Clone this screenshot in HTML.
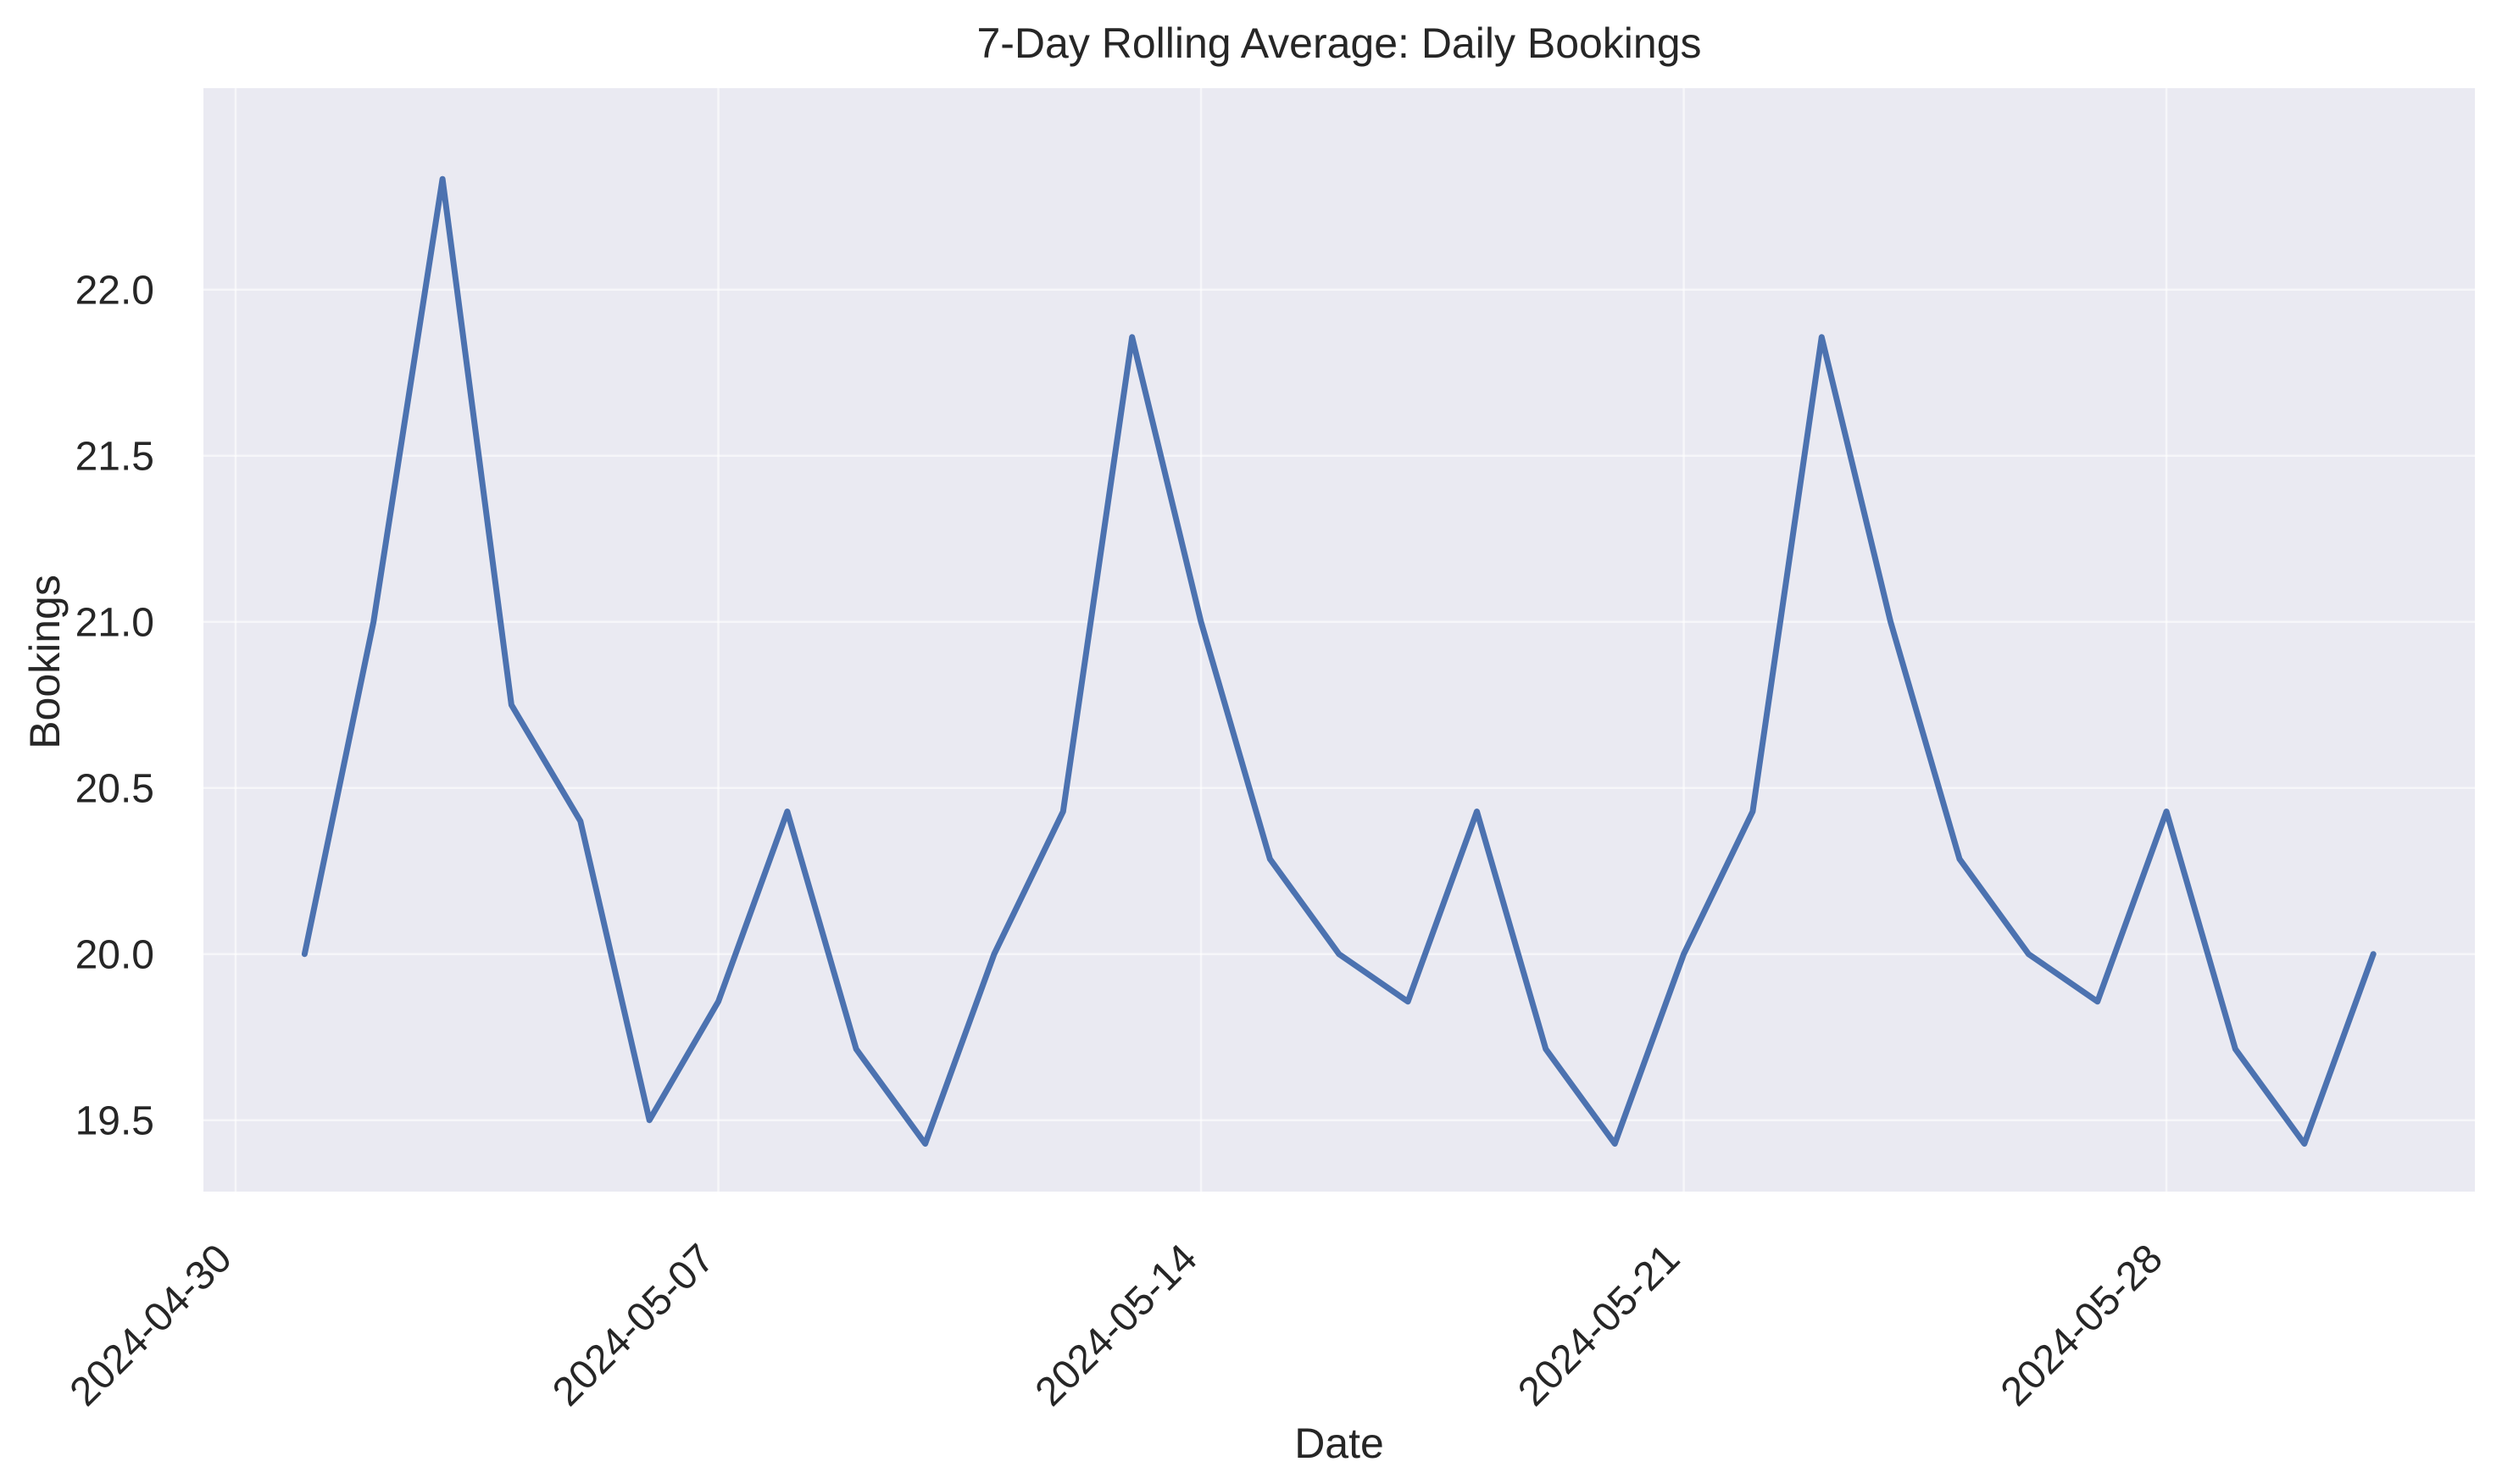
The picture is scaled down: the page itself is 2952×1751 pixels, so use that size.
<!DOCTYPE html>
<html><head><meta charset="utf-8"><style>
html,body{margin:0;padding:0;background:#fff;}
svg{display:block;font-family:"Liberation Sans",Arial,sans-serif;}
</style></head><body>
<svg id="chart" width="2952" height="1751" viewBox="0 0 2952 1751">
<rect x="0" y="0" width="2952" height="1751" fill="#ffffff"/>
<rect x="240" y="104" width="2680" height="1302" fill="#eaeaf2"/>
<g id="grid"></g>
<g id="series"></g>
<g id="xticks"></g>
<g id="yticks"></g>
<text x="1580" y="68" text-anchor="middle" font-size="50" fill="#262626">7-Day Rolling Average: Daily Bookings</text>
<text x="1580" y="1720" text-anchor="middle" font-size="50" fill="#262626">Date</text>
<text transform="translate(70,781) rotate(-90)" text-anchor="middle" font-size="50" fill="#262626">Bookings</text>
</svg>
<script>
const dayOffsets = [1,2,3,4,5,6,7,8,9,10,11,12,13,14,15,16,17,18,19,20,21,22,23,24,25,26,27,28,29,30,31];
const values = [20.0,21.0,22.333,20.75,20.4,19.5,19.857,20.429,19.714,19.429,20.0,20.429,21.857,21.0,20.286,20.0,19.857,20.429,19.714,19.429,20.0,20.429,21.857,21.0,20.286,20.0,19.857,20.429,19.714,19.429,20.0];
const xTickOffsets = [0,7,14,21,28];
const xTickLabels = ["2024-04-30","2024-05-07","2024-05-14","2024-05-21","2024-05-28"];
const yTicks = [19.5,20.0,20.5,21.0,21.5,22.0];
const yTickLabels = ["19.5","20.0","20.5","21.0","21.5","22.0"];

const NS = "http://www.w3.org/2000/svg";
const PL = 240, PR = 2920, PT = 104, PB = 1406;
function xScale(d){ return 278 + d * 81.36; }
function yScale(v){ return 1321.7 - (v - 19.5) * 392; }
function mk(tag, attrs, parent){
  const el = document.createElementNS(NS, tag);
  for (const k in attrs) el.setAttribute(k, attrs[k]);
  parent.appendChild(el);
  return el;
}
const grid = document.getElementById('grid');
const xt = document.getElementById('xticks');
const yt = document.getElementById('yticks');
const series = document.getElementById('series');

yTicks.forEach((v, i) => {
  const y = yScale(v);
  const l = mk('line', {x1: PL, x2: PR, y1: y, y2: y, stroke: '#ffffff', 'stroke-width': 2.5, opacity: 0.6}, grid);
  
  
  const t = mk('text', {x: 182, y: y + 17, 'text-anchor': 'end', 'font-size': 48, fill: '#262626'}, yt);
  t.textContent = yTickLabels[i];
  
  
});
xTickOffsets.forEach((d, i) => {
  const x = xScale(d);
  const l = mk('line', {x1: x, x2: x, y1: PT, y2: PB, stroke: '#ffffff', 'stroke-width': 2.5, opacity: 0.6}, grid);
  
  
  const t = mk('text', {transform: 'translate(' + (x - 2) + ',1488) rotate(-45)', 'text-anchor': 'end', 'font-size': 48, fill: '#262626'}, xt);
  t.textContent = xTickLabels[i];
  
  
});
const pts = dayOffsets.map((d, i) => xScale(d).toFixed(1) + ',' + yScale(values[i]).toFixed(1)).join(' ');
const line = mk('polyline', {points: pts, fill: 'none', stroke: '#4c72b0', 'stroke-width': 7, 'stroke-linejoin': 'round', 'stroke-linecap': 'round'}, series);


</script>
</body></html>
